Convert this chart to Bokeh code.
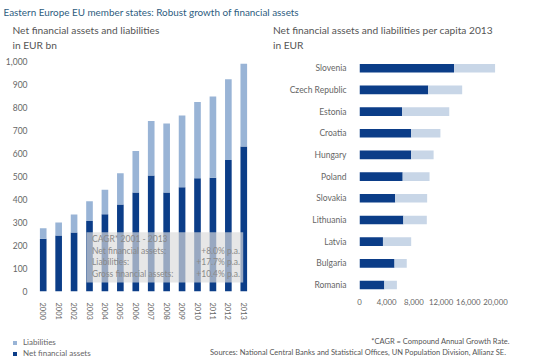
from bokeh.plotting import figure
from bokeh.models import (Range1d, FactorRange, ColumnDataSource, NumeralTickFormatter,
                          FixedTicker, BoxAnnotation, Label, Legend, LegendItem)
from bokeh.layouts import column, row
from bokeh.embed import file_html
from bokeh.resources import INLINE

# ---------------- data ----------------
years = ["2000", "2001", "2002", "2003", "2004", "2005", "2006",
         "2007", "2008", "2009", "2010", "2011", "2012", "2013"]
net_assets = [229, 243, 256, 307, 336, 378, 430, 504, 430, 453, 492, 495, 572, 630]
liabilities = [46, 57, 79, 85, 106, 136, 181, 237, 300, 312, 332, 353, 351, 360]
left_ticks = [0, 100, 200, 300, 400, 500, 600, 700, 800, 900, 1000]

countries = ["Slovenia", "Czech Republic", "Estonia", "Croatia", "Hungary", "Poland",
             "Slovakia", "Lithuania", "Latvia", "Bulgaria", "Romania"]
net_pc = [13900, 10100, 6250, 7600, 7600, 6350, 5250, 6450, 3450, 5150, 3650]
liab_pc = [6050, 5000, 6950, 4300, 3300, 3950, 4700, 3450, 4150, 1800, 1850]
right_ticks = [0, 4000, 8000, 12000, 16000, 20000]

cagr_title = "CAGR* 2001 - 2013"
cagr_labels = ["Net financial assets:", "Liabilities:", "Gross financial assets:"]
cagr_values = ["+8.0% p.a.", "+17.7% p.a.", "+10.4% p.a."]

title_text = "Eastern Europe EU member states: Robust growth of financial assets"
left_sub = ["Net financial assets and liabilities", "in EUR bn"]
right_sub = ["Net financial assets and liabilities per capita 2013", "in EUR"]
note_text = "*CAGR = Compound Annual Growth Rate."
source_text = "Sources: National Central Banks and Statistical Offices, UN Population Division, Allianz SE."
legend_labels = ["Liabilities", "Net financial assets"]

# ---------------- style ----------------
FONT = "Lato"
DARK = "#0b3d88"
LIGHT_L = "#99b4d6"
LIGHT_R = "#c8d6e7"
GREY = "#666666"
TITLE_C = "#2d5c80"


def style_axes(p):
    p.xgrid.visible = False
    p.ygrid.visible = False
    p.outline_line_color = None
    for ax in (p.xaxis, p.yaxis):
        ax.axis_line_color = None
        ax.major_tick_line_color = None
        ax.minor_tick_line_color = None
        ax.major_label_text_font = FONT
        ax.major_label_text_color = GREY


# ---------------- header (page pixels = data units) ----------------
HH = 50
head = figure(width=540, height=HH, x_range=Range1d(0, 540), y_range=Range1d(HH, 0),
              x_axis_type=None, y_axis_type=None, min_border=0,
              output_backend="svg", toolbar_location=None)
head.outline_line_color = None
head.add_layout(Label(x=3, y=11.3, text=title_text, text_font=FONT, text_font_size="9.9px",
                      text_color=TITLE_C, text_baseline="alphabetic"))
for i, t in enumerate(left_sub):
    head.add_layout(Label(x=12, y=29.7 + 14.3 * i, text=t, text_font=FONT, text_font_size="10.2px",
                          text_color="#555555", text_baseline="alphabetic"))
for i, t in enumerate(right_sub):
    head.add_layout(Label(x=272.5, y=29.7 + 14.3 * i, text=t, text_font=FONT, text_font_size="10.2px",
                          text_color="#555555", text_baseline="alphabetic"))

# ---------------- left chart ----------------
src1 = ColumnDataSource(dict(years=years, net=net_assets, liab=liabilities))
p1 = figure(width=270, height=272, x_range=FactorRange(factors=years, range_padding=0),
            y_range=Range1d(0, 1000), min_border_left=35, min_border_right=19,
            min_border_top=11, min_border_bottom=28,
            output_backend="svg", toolbar_location=None)
p1.vbar_stack(["net", "liab"], x="years", width=0.43, color=[DARK, LIGHT_L],
              line_color=None, source=src1)
style_axes(p1)
p1.yaxis.ticker = FixedTicker(ticks=left_ticks)
p1.yaxis.formatter = NumeralTickFormatter(format="0,0")
p1.yaxis.major_label_text_font_size = "8.5px"
p1.yaxis.major_label_standoff = 2
p1.xaxis.major_label_orientation = "vertical"
p1.xaxis.major_label_text_font_size = "7.5px"
p1.xaxis.major_label_standoff = 5

# helpers to turn page pixels of the frame into data coordinates
def lx(px):
    return (px - 35.0) / ((251.0 - 35.0) / len(years))

def ly(py):
    return (294.0 - py) / (233.0 / 1000.0)

p1.add_layout(BoxAnnotation(left=lx(86), right=lx(242.7), top=ly(234), bottom=ly(285),
                            fill_color="#dcdcdc", fill_alpha=0.68, line_color=None))
rows_y = [240.7, 252.5, 264.2, 276.0]
p1.add_layout(Label(x=lx(91.5), y=ly(rows_y[0]), text=cagr_title, text_font=FONT,
                    text_font_size="8.5px", text_color="#8a8a8a", text_baseline="middle"))
for i in range(3):
    p1.add_layout(Label(x=lx(91.5), y=ly(rows_y[i + 1]), text=cagr_labels[i], text_font=FONT,
                        text_font_size="8.5px", text_color="#8a8a8a", text_baseline="middle"))
    p1.add_layout(Label(x=lx(239.5), y=ly(rows_y[i + 1]), text=cagr_values[i], text_font=FONT,
                        text_font_size="8.5px", text_color="#8a8a8a", text_baseline="middle",
                        text_align="right"))

# ---------------- right chart ----------------
n = len(countries)
idx = [n - 1 - i for i in range(n)]
src2 = ColumnDataSource(dict(idx=idx, net=net_pc, liab=liab_pc))
p2 = figure(width=270, height=272, x_range=Range1d(0, 20000), y_range=Range1d(-0.3, 10.31),
            min_border_left=89, min_border_right=45, min_border_top=5, min_border_bottom=25,
            output_backend="svg", toolbar_location=None)
p2.hbar_stack(["net", "liab"], y="idx", height=0.4, color=[DARK, LIGHT_R],
              line_color=None, source=src2)
style_axes(p2)
p2.yaxis.ticker = FixedTicker(ticks=idx)
p2.yaxis.major_label_overrides = {k: c for k, c in zip(idx, countries)}
p2.yaxis.major_label_text_font_size = "8.5px"
p2.yaxis.major_label_standoff = 7
p2.xaxis.ticker = FixedTicker(ticks=right_ticks)
p2.xaxis.formatter = NumeralTickFormatter(format="0,0")
p2.xaxis.major_label_text_font_size = "7.8px"
p2.xaxis.major_label_standoff = 1

# ---------------- footer ----------------
FH = 41
foot = figure(width=540, height=FH, x_range=Range1d(0, 540), y_range=Range1d(FH, 0),
              x_axis_type=None, y_axis_type=None, min_border=0,
              output_backend="svg", toolbar_location=None)
foot.outline_line_color = None
swatch_colors = [LIGHT_L, DARK]
legend_y = [16, 5]
for lab, col, ly_ in zip(legend_labels, swatch_colors, legend_y):
    r = foot.vbar(x=[0], top=[0], width=0, fill_color=col, line_color=None)
    foot.add_layout(Legend(items=[LegendItem(label=lab, renderers=[r])],
                           location=(12, ly_), glyph_width=5, glyph_height=5, label_height=9,
                           label_width=10, spacing=0, padding=0, margin=0, label_standoff=6,
                           label_text_font=FONT, label_text_font_size="8px",
                           label_text_color=GREY, border_line_color=None,
                           background_fill_alpha=0))
foot.add_layout(Label(x=509.3, y=18.5, text=note_text, text_font=FONT, text_font_size="7.5px",
                      text_color="#555555", text_align="right", text_baseline="middle"))
foot.add_layout(Label(x=505.7, y=29.7, text=source_text, text_font=FONT, text_font_size="7.5px",
                      text_color="#555555", text_align="right", text_baseline="middle"))

layout = column(head, row(p1, p2), foot)
open("out.html", "w").write(file_html(layout, INLINE))
